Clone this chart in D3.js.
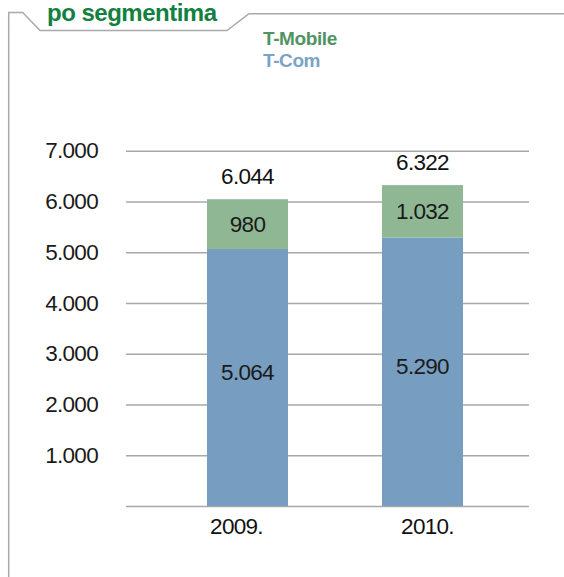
<!DOCTYPE html>
<html>
<head>
<meta charset="utf-8">
<script src="https://cdn.jsdelivr.net/npm/d3@7"></script>
<style>
  html, body { margin: 0; padding: 0; background: #fff; }
  svg { display: block; }
  text { font-family: "Liberation Sans", Arial, sans-serif; }
</style>
</head>
<body>
<script>
const categories = ["2009.", "2010."];
const seriesNames = ["T-Com", "T-Mobile"];
const tCom = [5064, 5290];
const tMobile = [980, 1032];
const totals = [6044, 6322];
const yTicks = [0, 1000, 2000, 3000, 4000, 5000, 6000, 7000];
const yTickLabels = ["", "1.000", "2.000", "3.000", "4.000", "5.000", "6.000", "7.000"];
const title = "po segmentima";

const W = 564, H = 577;
const colors = { "T-Com": "#779dc0", "T-Mobile": "#8fb793" };
const legendColors = { "T-Com": "#7ba2c9", "T-Mobile": "#4f9362" };

const svg = d3.select("body").append("svg").attr("width", W).attr("height", H);

// frame
svg.append("path")
  .attr("d", "M8.7,577 L8.7,12.5 L22.7,12.5 L40,30.5 L227,30.5 L249,13.7 L564,13.7")
  .attr("fill", "none").attr("stroke", "#a9a9a9").attr("stroke-width", 1.5);

// title
svg.append("text").attr("x", 47).attr("y", 20.5)
  .attr("font-size", 24).attr("font-weight", "bold").attr("letter-spacing", -0.5)
  .attr("fill", "#12803f").text(title);

// legend
const legendItems = ["T-Mobile", "T-Com"];
svg.selectAll(".leg").data(legendItems).enter().append("text")
  .attr("class", "leg")
  .attr("x", 263).attr("y", (d, i) => 44.5 + i * 22.5)
  .attr("font-size", 19).attr("font-weight", "bold").attr("letter-spacing", -0.4)
  .attr("fill", d => legendColors[d]).text(d => d);

const y = d3.scaleLinear().domain([0, 7000]).range([506, 150.7]);
const x = d3.scaleBand().domain(categories).range([160, 510]).paddingInner(0.5371).paddingOuter(0.2686);
const xLabel = d3.scalePoint().domain(categories).range([236, 427]);

const gridLeft = 126, gridRight = 529;

// y axis + gridlines
const yAxis = svg.append("g").attr("transform", `translate(${gridLeft},0)`)
  .call(d3.axisLeft(y).tickValues(yTicks).tickSize(-(gridRight - gridLeft)).tickPadding(28)
    .tickFormat((d, i) => yTickLabels[i]));
yAxis.select(".domain").remove();
yAxis.selectAll(".tick line").attr("stroke", "#a8a8a8").attr("stroke-width", 1.5);
yAxis.selectAll(".tick text").attr("font-size", 22.5).attr("letter-spacing", -0.7)
  .attr("fill", "#1a1a1a").attr("font-family", "Liberation Sans, Arial, sans-serif");

// stacked bars
const rows = categories.map((c, i) => ({ cat: c, "T-Com": tCom[i], "T-Mobile": tMobile[i] }));
const stack = d3.stack().keys(seriesNames)(rows);

const fmt = d3.formatLocale({ decimal: ",", thousands: ".", grouping: [3], currency: ["", ""] }).format(",");

const layers = svg.selectAll(".layer").data(stack).enter().append("g")
  .attr("fill", d => colors[d.key]);
layers.selectAll("rect").data(d => d).enter().append("rect")
  .attr("x", d => x(d.data.cat))
  .attr("width", x.bandwidth())
  .attr("y", d => y(d[1]))
  .attr("height", d => y(d[0]) - y(d[1]));

// segment labels
stack.forEach(layer => {
  const off = layer.key === "T-Com" ? -5.5 : 0;
  svg.selectAll(null).data(layer).enter().append("text")
    .attr("x", d => x(d.data.cat) + x.bandwidth() / 2)
    .attr("y", d => (y(d[0]) + y(d[1])) / 2 + off)
    .attr("dy", "0.36em")
    .attr("text-anchor", "middle")
    .attr("font-size", 22.5).attr("letter-spacing", -0.7)
    .attr("fill", "#1a1a1a")
    .text(d => fmt(d[1] - d[0]));
});

// totals
svg.selectAll(".tot").data(totals).enter().append("text")
  .attr("class", "tot")
  .attr("x", (d, i) => x(categories[i]) + x.bandwidth() / 2)
  .attr("y", d => y(d) - 23)
  .attr("dy", "0.36em")
  .attr("text-anchor", "middle")
  .attr("font-size", 22.5).attr("letter-spacing", -0.7)
  .attr("fill", "#111")
  .text(d => fmt(d));

// category labels
const xAxis = svg.append("g").attr("transform", "translate(0,506)")
  .call(d3.axisBottom(xLabel).tickSize(0).tickPadding(12));
xAxis.select(".domain").remove();
xAxis.selectAll(".tick text").attr("font-size", 22.5).attr("letter-spacing", -0.7)
  .attr("fill", "#111").attr("font-family", "Liberation Sans, Arial, sans-serif");
</script>
</body>
</html>
